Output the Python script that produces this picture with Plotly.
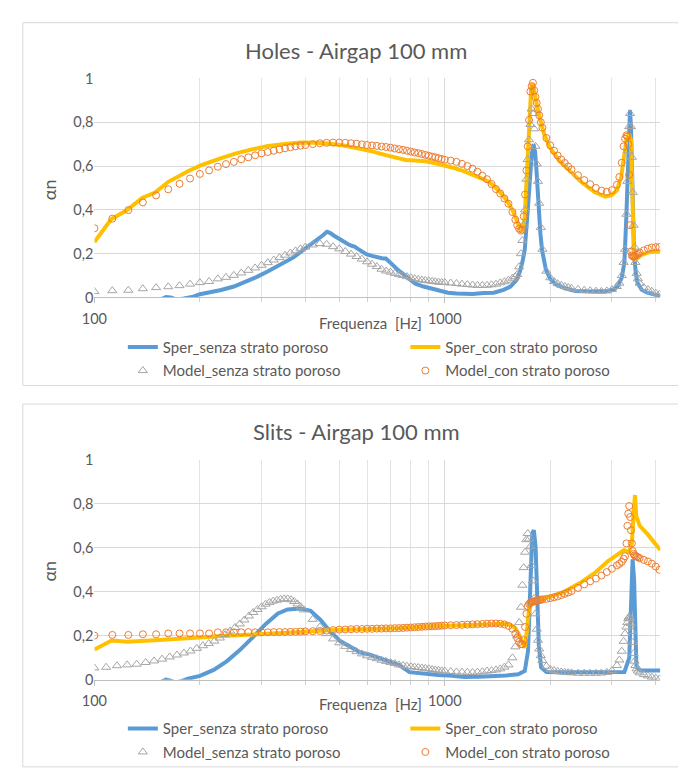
import plotly.graph_objects as go

# ---------------- data ----------------
# model frequency grid (Hz) shared by three model series
f_model = [100, 112.5, 125, 137.5, 150, 162.5, 175, 187.5, 200, 212.5, 225, 237.5, 250, 262.5, 275, 287.5,
           300, 312.5, 325, 337.5, 350, 362.5, 375, 387.5, 400,
           420, 440, 460, 480, 500, 520, 540, 560, 580, 600, 620, 640, 660, 680, 700, 720, 740, 760, 780, 800,
           820, 840, 860, 880, 900, 920, 940, 960, 980, 1000,
           1040, 1080, 1120, 1160, 1200, 1240, 1280, 1320, 1360, 1400, 1440, 1480, 1520, 1560,
           1590, 1610, 1630, 1650, 1665, 1680, 1695, 1710, 1725, 1740, 1755, 1770, 1785, 1800, 1815, 1830,
           1845, 1860, 1880, 1900,
           1950, 2000, 2050, 2100, 2150, 2200, 2250, 2300, 2400, 2500, 2600, 2700, 2800, 2900, 3000, 3100,
           3150, 3200, 3240, 3270, 3300, 3320, 3340, 3360, 3380, 3400, 3420, 3440, 3460, 3480, 3500, 3530, 3560,
           3600, 3700, 3800, 3900, 4000, 4100]

# model frequency grid for "Slits - Model_senza" (finer low-frequency step)
f_model_b = [100, 108, 116, 124, 132, 140, 148, 156, 164, 172, 180, 188, 196, 204, 212, 220, 228, 236, 244,
             252, 260, 268, 276, 284, 292, 300, 308, 316, 324, 332, 340, 348, 356, 364, 372, 380, 388, 396,
             420, 440, 460, 480, 500, 520, 540, 560, 580, 600, 620, 640, 660, 680, 700, 720, 740, 760, 780, 800,
             820, 840, 860, 880, 900, 920, 940, 960, 980, 1000,
             1040, 1080, 1120, 1160, 1200, 1240, 1280, 1320, 1360, 1400, 1440, 1480, 1520, 1560,
             1590, 1610, 1630, 1650, 1665, 1680, 1695, 1710, 1725, 1740, 1755, 1770, 1785, 1800, 1815, 1830,
             1845, 1860, 1880, 1900,
             1950, 2000, 2050, 2100, 2150, 2200, 2250, 2300, 2400, 2500, 2600, 2700, 2800, 2900, 3000, 3100,
             3150, 3200, 3240, 3270, 3300, 3320, 3340, 3360, 3380, 3400, 3420, 3440, 3460, 3480, 3500, 3530, 3560,
             3600, 3700, 3800, 3900, 4000, 4100]

# ---- Holes - Airgap 100 mm ----
holes_model_senza = [.027, .031, .033, .040, .045, .049, .054, .061, .068, .073, .085, .092, .101, .112, .124,
                     .135, .147, .159, .171, .182, .193, .203, .213, .222, .230,
                     .240, .246, .243, .232, .222, .210, .198, .187, .175, .163, .152, .141, .129, .121, .116,
                     .110, .104, .100, .095, .090, .086, .083, .080, .078, .076, .074, .072, .070, .069, .068,
                     .066, .064, .061, .059, .057, .055, .055, .056, .058, .061, .067, .072, .079, .088,
                     .095, .105, .140, .200, .260, .330, .400, .540, .630, .720, .790, .860, .840, .770, .690,
                     .610, .530, .430, .320, .220,
                     .120, .090, .073, .063, .056, .050, .046, .042, .037, .033, .031, .029, .028, .030, .036, .050,
                     .065, .100, .160, .220, .380, .530, .670, .780, .840, .780, .640, .480, .330, .230, .160,
                     .110, .085,
                     .065, .045, .036, .028, .020, .015]

holes_model_con = [.316, .360, .399, .434, .466, .494, .519, .543, .564, .580, .597, .609, .619, .631, .640,
                   .649, .658, .664, .670, .676, .681, .686, .690, .693, .696,
                   .700, .704, .706, .707, .707, .706, .704, .702, .699, .696, .694, .692, .689, .687, .684,
                   .680, .677, .674, .670, .666, .662, .659, .655, .651, .647, .643, .640, .636, .632, .629,
                   .625, .619, .610, .600, .588, .574, .556, .540, .518, .495, .475, .452, .428, .390,
                   .355, .330, .314, .305, .310, .370, .470, .580, .690, .810, .940, .965, .980, .945, .915,
                   .888, .860, .832, .800, .775,
                   .728, .695, .670, .648, .630, .614, .598, .584, .558, .536, .517, .500, .488, .482, .490, .515,
                   .550, .615, .690, .725, .740, .735, .700, .560, .330, .210, .192, .188, .186, .187, .190,
                   .195, .200,
                   .205, .215, .223, .228, .230, .230]

f_holes_sper_senza = [100, 120, 140, 155, 160, 165, 172, 180, 190, 200, 215, 230, 250, 270, 290, 313, 330, 349,
                      370, 388, 410, 432, 450, 461, 470, 482, 500, 514, 530, 545, 553, 565, 580, 597, 620,
                      650, 665, 679, 695, 709, 730, 756, 790, 824, 870, 917, 970, 1021, 1080, 1137, 1200,
                      1293, 1380, 1472, 1540, 1603, 1640, 1670, 1692, 1720, 1747, 1770, 1792, 1810, 1824,
                      1840, 1855, 1875, 1896, 1945, 2000, 2074, 2200, 2359, 2600, 2925, 3050, 3120, 3200,
                      3256, 3300, 3327, 3355, 3378, 3400, 3421, 3445, 3471, 3510, 3548, 3650, 3785, 3950, 4124]
holes_sper_senza = [-.12, -.07, -.03, -.008, .002, .0, -.01, -.005, .002, .015, .024, .034, .05, .07, .093,
                    .12, .14, .158, .183, .208, .235, .262, .285, .30, .295, .283, .268, .253, .243, .235,
                    .232, .222, .21, .198, .19, .18, .178, .178, .165, .15, .13, .112, .085, .063, .05,
                    .04, .03, .022, .018, .015, .016, .02, .022, .035, .05, .08, .12, .17, .22, .37,
                    .53, .65, .70, .665, .60, .49, .38, .29, .215, .125, .085, .06, .042, .03, .027,
                    .03, .038, .052, .09, .16, .38, .60, .77, .855, .78, .60, .38, .2, .11, .067,
                    .035, .022, .014, .007]

f_holes_sper_con = [100, 111.6, 124, 136.8, 149, 162.5, 185, 201, 229, 255, 284, 313, 350, 388, 430, 471, 520,
                    571, 620, 679, 730, 773, 820, 879, 940, 1000, 1070, 1138, 1200, 1266, 1330, 1380, 1440,
                    1500, 1560, 1610, 1640, 1665, 1690, 1710, 1730, 1750, 1765, 1780, 1795, 1815, 1840, 1870,
                    1923, 1987, 2119, 2261, 2462, 2684, 2872, 3000, 3100, 3187, 3256, 3300, 3340, 3370, 3400,
                    3430, 3470, 3550, 3650, 3800, 3950, 4124]
holes_sper_con = [.253, .357, .399, .454, .479, .528, .576, .603, .635, .659, .677, .692, .701, .707, .706,
                  .702, .693, .681, .667, .65, .637, .628, .625, .622, .613, .603, .59, .576, .562, .545,
                  .53, .51, .48, .445, .40, .345, .315, .31, .36, .52, .72, .9, .96, .975, .955, .91, .865,
                  .815, .745, .69, .625, .58, .525, .48, .46, .468, .49, .55, .65, .72, .74, .74, .72, .45,
                  .17, .18, .195, .205, .21, .21]

# ---- Slits - Airgap 100 mm ----
slits_model_senza = [.054, .057, .064, .068, .071, .079, .086, .094, .104, .113, .122, .131, .143, .155, .165,
                     .176, .190, .205, .222, .238, .254, .272, .290, .306, .320, .332, .344, .352, .358, .362,
                     .366, .368, .368, .364, .356, .345, .332, .318,
                     .275, .240, .210, .186, .168, .152, .138, .128, .118, .109, .102, .096, .089, .084, .079,
                     .074, .068, .065, .062, .060, .058, .056, .054, .052, .050, .047, .045, .043, .041, .040,
                     .038, .036, .035, .034, .034, .035, .037, .040, .042, .045, .050, .058, .068, .100,
                     .150, .200, .260, .330, .430, .510, .580, .637, .665, .640, .605, .520, .450, .370, .300,
                     .230, .180, .140, .110, .088,
                     .062, .048, .042, .038, .036, .034, .033, .032, .030, .030, .030, .030, .031, .034, .042, .065,
                     .090, .130, .175, .210, .240, .260, .278, .287, .280, .255, .220, .170, .120, .085, .065,
                     .050, .040,
                     .032, .024, .018, .012, .008, .004]

slits_model_con = [.201, .204, .204, .207, .207, .211, .211, .211, .211, .211, .216, .216, .216, .216, .217,
                   .216, .216, .216, .217, .217, .217, .218, .218, .219, .220,
                   .221, .222, .224, .226, .228, .229, .230, .231, .231, .232, .232, .233, .233, .234, .234,
                   .235, .235, .236, .237, .238, .239, .240, .241, .242, .243, .243, .244, .245, .246, .247,
                   .248, .249, .250, .251, .252, .253, .254, .255, .256, .256, .255, .252, .245, .232,
                   .210, .190, .172, .162, .162, .180, .240, .300, .335, .345, .350, .353, .355, .357, .358,
                   .360, .361, .362, .364, .366,
                   .368, .371, .375, .379, .385, .391, .397, .404, .418, .434, .448, .460, .474, .490, .505, .520,
                   .527, .536, .550, .562, .620, .700, .755, .790, .740, .680, .620, .585, .572, .566, .563,
                   .560, .557,
                   .553, .545, .538, .528, .515, .500]

f_slits_sper_senza = [100, 130, 150, 160, 165, 170, 178, 185, 200, 219, 239, 260, 284, 309, 334, 356, 388, 414,
                      442, 471, 503, 544, 575, 608, 650, 700, 740, 793, 865, 957, 1050, 1137, 1250, 1380, 1500,
                      1620, 1692, 1728, 1754, 1777, 1796, 1816, 1836, 1855, 1883, 1950, 2100, 2500, 3000, 3256,
                      3362, 3400, 3436, 3470, 3495, 3525, 3626, 3850, 4124]
slits_sper_senza = [-.15, -.07, -.02, .001, -.004, -.012, -.005, .005, .018, .045, .085, .135, .195, .255, .302,
                    .32, .324, .314, .272, .22, .176, .146, .124, .116, .1, .08, .068, .035, .027, .022,
                    .018, .013, .014, .016, .02, .025, .04, .13, .46, .667, .68, .607, .384, .16, .057,
                    .036, .034, .034, .034, .036, .1, .384, .548, .458, .235, .057, .042, .042, .042]

f_slits_sper_con = [100, 112, 124, 137, 149, 170, 201, 239, 284, 330, 388, 482, 597, 681, 740, 917, 1137, 1380,
                    1472, 1540, 1590, 1630, 1665, 1692, 1715, 1740, 1770, 1850, 1990, 2190, 2460, 2700, 2925,
                    3100, 3250, 3350, 3420, 3460, 3491, 3520, 3600, 3800, 4000, 4124]
slits_sper_con = [.138, .179, .173, .175, .18, .186, .195, .2, .206, .21, .217, .226, .23, .237, .235, .243,
                  .25, .257, .255, .25, .235, .205, .165, .146, .22, .32, .35, .36, .375, .40, .445, .49, .54,
                  .565, .59, .58, .62, .76, .84, .745, .70, .66, .62, .59]

series_names = ["Sper_senza strato poroso", "Sper_con strato poroso",
                "Model_senza strato poroso", "Model_con strato poroso"]
titles = ["Holes - Airgap 100 mm", "Slits - Airgap 100 mm"]
y_tickvals = [0, 0.2, 0.4, 0.6, 0.8, 1]
y_ticktext = ["0", "0,2", "0,4", "0,6", "0,8", "1"]
x_tickvals = [100, 1000]
x_ticktext = ["100", "1000"]
x_minor_vals = [200, 300, 400, 500, 600, 700, 800, 900, 2000, 3000, 4000]

# ---------------- figure ----------------
W, H = 678, 769
BLUE, YELLOW, GRAY, ORANGE = "#5B9BD5", "#FFC000", "#A5A5A5", "#ED7D31"
TXT = "#595959"
FONT = "Lato"

def py(px):  # pixel row -> paper fraction
    return 1 - px / H

def pxx(px):
    return px / W

fig = go.Figure()

panels = [
    dict(xa="x", ya="y", off=0,
         data=[(f_holes_sper_senza, holes_sper_senza), (f_holes_sper_con, holes_sper_con),
               (f_model, holes_model_senza), (f_model, holes_model_con)]),
    dict(xa="x2", ya="y2", off=390,
         data=[(f_slits_sper_senza, slits_sper_senza), (f_slits_sper_con, slits_sper_con),
               (f_model_b, slits_model_senza), (f_model, slits_model_con)]),
]

styles = [
    dict(mode="lines", line=dict(color=BLUE, width=4)),
    dict(mode="lines", line=dict(color=YELLOW, width=4)),
    dict(mode="markers", marker=dict(symbol="triangle-up-open", size=8, color=GRAY, line=dict(width=1))),
    dict(mode="markers", marker=dict(symbol="circle-open", size=7, color=ORANGE, line=dict(width=1))),
]

leg_pos = [(112, 346), (400, 346), (112, 370), (400, 370)]
legend_layouts = {}
k = 0
for pi, p in enumerate(panels):
    for si, (fx, vy) in enumerate(p["data"]):
        k += 1
        lname = "legend" if k == 1 else f"legend{k}"
        fig.add_trace(go.Scatter(x=fx, y=vy, name=series_names[si], xaxis=p["xa"], yaxis=p["ya"],
                                 legend=lname, showlegend=True, hoverinfo="skip", **styles[si]))
        lx, ly = leg_pos[si]
        legend_layouts[lname] = dict(x=pxx(lx), y=py(ly + p["off"]), xanchor="left", yanchor="middle",
                                     bgcolor="rgba(0,0,0,0)", borderwidth=0,
                                     font=dict(family=FONT, size=15, color=TXT))

x_dom = [83 / W, 660 / W]
axis_x = dict(type="log", range=[2, 3.6153], domain=x_dom,
              tickvals=x_tickvals, ticktext=x_ticktext,
              showgrid=True, gridcolor="#D9D9D9", gridwidth=1,
              ticks="outside", ticklen=5, tickcolor="#BFBFBF",
              showline=True, linecolor="#BFBFBF", linewidth=1,
              tickfont=dict(family=FONT, size=14.5, color=TXT), ticklabelstandoff=3,
              minor=dict(tickvals=x_minor_vals, showgrid=True, gridcolor="#E3E3E3",
                         ticks="outside", ticklen=4, tickcolor="#D0D0D0"),
              zeroline=False, fixedrange=True)
axis_y = dict(range=[0, 1], tickvals=y_tickvals, ticktext=y_ticktext,
              showgrid=True, gridcolor="#D9D9D9", gridwidth=1, zeroline=False,
              showline=False, ticks="", tickfont=dict(family=FONT, size=14.5, color=TXT),
              fixedrange=True)

fig.update_layout(
    width=W, height=H, margin=dict(l=0, r=0, t=0, b=0),
    paper_bgcolor="white", plot_bgcolor="white",
    font=dict(family=FONT, color=TXT),
    xaxis=dict(axis_x, anchor="y"),
    yaxis=dict(axis_y, domain=[py(295), py(71)], anchor="x"),
    xaxis2=dict(axis_x, anchor="y2"),
    yaxis2=dict(axis_y, domain=[py(686), py(461)], anchor="x2"),
    hovermode=False,
    **legend_layouts,
)

annotations = []
shapes = []
for pi, off in enumerate([0, 390]):
    annotations.append(dict(text=titles[pi], x=pxx(350), y=py(42 + off), xref="paper", yref="paper",
                            xanchor="center", yanchor="middle", showarrow=False,
                            font=dict(family=FONT, size=22, color=TXT)))
    annotations.append(dict(text="Frequenza  [Hz]", x=pxx(364), y=py(321 + off), xref="paper", yref="paper",
                            xanchor="center", yanchor="middle", showarrow=False,
                            font=dict(family=FONT, size=15, color=TXT)))
    annotations.append(dict(text="αn", x=pxx(37), y=py(185 + off), xref="paper", yref="paper",
                            xanchor="center", yanchor="middle", showarrow=False, textangle=-90,
                            font=dict(family=FONT, size=18, color=TXT)))
    shapes.append(dict(type="rect", xref="paper", yref="paper",
                       x0=pxx(10), x1=pxx(700), y0=py(385 + off), y1=py(14 + off),
                       line=dict(color="#D9D9D9", width=1), fillcolor="rgba(0,0,0,0)", layer="below"))

fig.update_layout(annotations=annotations, shapes=shapes)

fig.write_html("out.html", config={"displayModeBar": False},
               post_script="document.body.style.margin='0';document.body.style.overflow='hidden';")
